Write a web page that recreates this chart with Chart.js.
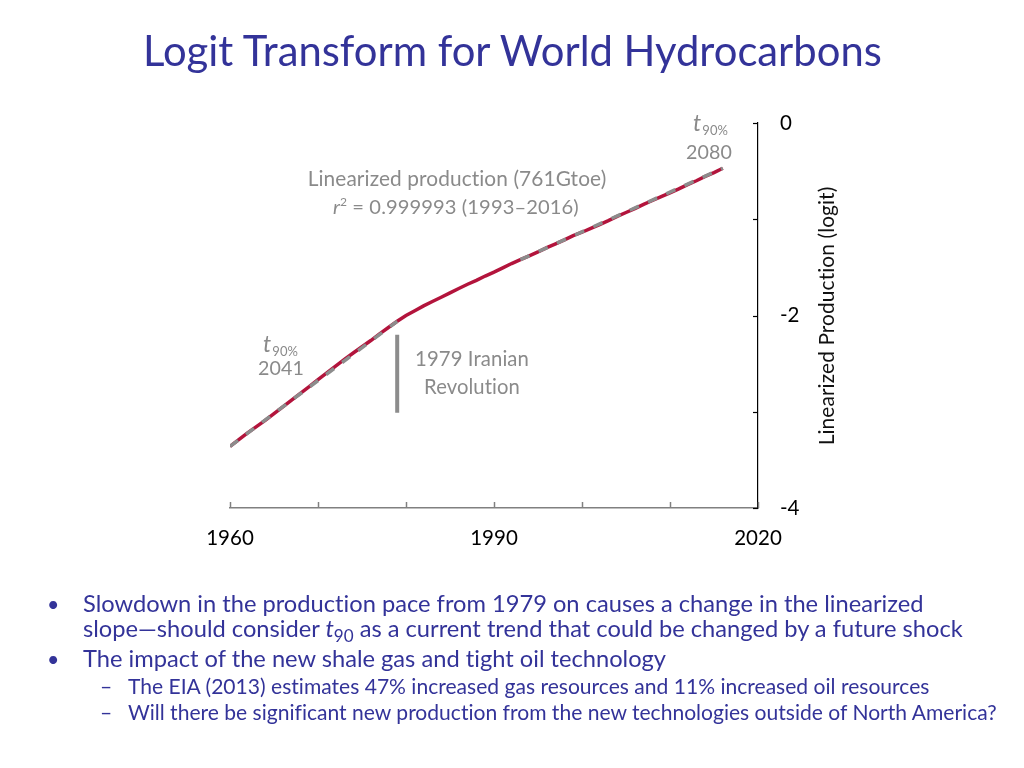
<!DOCTYPE html>
<html>
<head>
<meta charset="utf-8">
<script src="https://cdn.jsdelivr.net/npm/chart.js@4.4.0/dist/chart.umd.min.js"></script>
<style>
  html, body { margin: 0; padding: 0; background: #fff; width: 1024px; height: 768px; overflow: hidden; }
  #c { position: absolute; left: 0; top: 0; }
  .txt { position: absolute; white-space: nowrap; color: #333399; line-height: 1; font-family: Lato, "Open Sans", sans-serif; font-variant-ligatures: none; }
  .sub { font-size: 0.72em; position: relative; top: 0.3em; }
</style>
</head>
<body>
<canvas id="c" width="1024" height="768"></canvas>
<div id="texts"></div>
<script>
// ---------------- DATA ----------------
const years = [
  1960, 1961, 1962, 1963, 1964, 1965, 1966, 1967, 1968, 1969,
  1970, 1971, 1972, 1973, 1974, 1975, 1976, 1977, 1978, 1979,
  1980, 1981, 1982, 1983, 1984, 1985, 1986, 1987, 1988, 1989,
  1990, 1991, 1992, 1993, 1994, 1995, 1996, 1997, 1998, 1999,
  2000, 2001, 2002, 2003, 2004, 2005, 2006, 2007, 2008, 2009,
  2010, 2011, 2012, 2013, 2014, 2015, 2016
];
const logitProduction = [
  -3.36, -3.29, -3.22, -3.155, -3.09, -3.02, -2.95, -2.88, -2.81, -2.74,
  -2.665, -2.595, -2.525, -2.455, -2.39, -2.325, -2.26, -2.19, -2.125, -2.06,
  -2.00, -1.95, -1.90, -1.855, -1.81, -1.765, -1.72, -1.675, -1.635, -1.59,
  -1.55, -1.505, -1.46, -1.42, -1.38, -1.34, -1.295, -1.255, -1.215, -1.17,
  -1.135, -1.095, -1.055, -1.015, -0.97, -0.93, -0.89, -0.845, -0.805, -0.765,
  -0.725, -0.685, -0.64, -0.60, -0.555, -0.515, -0.47
];
const earlyFitYears = [1960, 1979];
const earlyFitLogit = [-3.36, -2.06];
const lateFitYears = [1993, 2016];
const lateFitLogit = [-1.42, -0.47];
const revolutionYears = [1979, 1979];
const revolutionLogit = [-2.20, -3.01];
const xTickLabels = [1960, 1990, 2020];
const yTickLabels = [0, -2, -4];

const toPts = (xs, ys) => xs.map((x, i) => ({ x: x, y: ys[i] }));

// ---------------- HTML TEXT ----------------
const textsEl = document.getElementById('texts');
function makeText(html, left, baseline, size, extraStyle) {
  const d = document.createElement('div');
  d.className = 'txt';
  d.innerHTML = html;
  d.style.fontSize = size + 'px';
  if (extraStyle) Object.assign(d.style, extraStyle);
  textsEl.appendChild(d);
  d.style.left = left + 'px';
  d.style.top = (baseline - 0.887 * size) + 'px';
  return d;
}
function fitSize(html, targetW) {
  const d = makeText(html, 0, 0, 20);
  const w = d.getBoundingClientRect().width;
  d.remove();
  return 20 * targetW / w;
}

// title
const titleText = 'Logit Transform for World Hydrocarbons';
const titleSize = fitSize(titleText, 739);
makeText(titleText, 143, 67, titleSize);

// bullets
const l1 = 'Slowdown in the production pace from 1979 on causes a change in the linearized';
const l2 = 'slope\u2014should consider <i>t</i><span class="sub">90</span> as a current trend that could be changed by a future shock';
const l3 = 'The impact of the new shale gas and tight oil technology';
const s1 = 'The EIA (2013) estimates 47% increased gas resources and 11% increased oil resources';
const s2 = 'Will there be significant new production from the new technologies outside of North America?';
const lv1 = fitSize(l1, 841);
const lv2 = fitSize(s2, 869);
makeText('\u2022', 47, 613, lv1 * 0.9);
makeText(l1, 83, 613, lv1);
makeText(l2, 83, 638, lv1);
makeText('\u2022', 47, 668, lv1 * 0.9);
makeText(l3, 83, 668, lv1);
makeText('\u2013', 100, 694, lv2);
makeText(s1, 128, 694, lv2);
makeText('\u2013', 100, 720, lv2);
makeText(s2, 128, 720, lv2);

// ---------------- CHART ----------------
const GRAY_TXT = '#8a8a8a';
function fitFont(ctx, text, targetW, style) {
  ctx.font = style + ' 20px Lato';
  const w = ctx.measureText(text).width;
  return 20 * targetW / w;
}

const annotPlugin = {
  id: 'annot',
  afterDraw(chart) {
    const ctx = chart.ctx;
    const xs = chart.scales.x, ys = chart.scales.y;
    ctx.save();
    try { ctx.letterSpacing = '0.1px'; } catch (e) {}
    // inward tick marks
    ctx.lineWidth = 1.5;
    ctx.strokeStyle = '#808080';
    xs.ticks.forEach(t => {
      const p = Math.round(xs.getPixelForValue(t.value)) + 0.5;
      ctx.beginPath(); ctx.moveTo(p, xs.top); ctx.lineTo(p, xs.top - 6); ctx.stroke();
    });
    ctx.strokeStyle = '#000';
    ctx.lineWidth = 1.2;
    ys.ticks.forEach(t => {
      const p = Math.round(ys.getPixelForValue(t.value)) + 0.5;
      ctx.beginPath(); ctx.moveTo(ys.left, p); ctx.lineTo(ys.left - 5, p); ctx.stroke();
    });

    // y axis title (reads bottom to top)
    const yTitle = 'Linearized Production (logit)';
    const yts = fitFont(ctx, yTitle, 259, 'normal');
    ctx.save();
    ctx.translate(834, 316);
    ctx.rotate(-Math.PI / 2);
    ctx.font = yts + 'px Lato';
    ctx.fillStyle = '#111';
    ctx.textAlign = 'center';
    ctx.textBaseline = 'alphabetic';
    ctx.fillText(yTitle, 0, 0);
    ctx.restore();

    ctx.fillStyle = GRAY_TXT;
    ctx.textBaseline = 'alphabetic';

    const centered = (text, cx, base, w) => {
      const s = fitFont(ctx, text, w, 'normal');
      ctx.font = s + 'px Lato';
      ctx.textAlign = 'center';
      ctx.fillText(text, cx, base);
    };
    const t90 = (x, base) => {
      ctx.textAlign = 'left';
      ctx.font = 'italic 23px Lato';
      ctx.fillText('t', x, base);
      const tw = ctx.measureText('t').width;
      ctx.font = '13px Lato';
      ctx.fillText('90%', x + tw + 1, base + 4);
    };

    t90(693, 131);
    centered('2080', 709, 159, 46);

    centered('Linearized production (761Gtoe)', 457, 186, 299);

    {
      const parts = [
        { t: 'r', f: 'italic', dy: 0, sc: 1 },
        { t: '2', f: 'normal', dy: -8, sc: 0.6 },
        { t: ' = 0.999993 (1993\u20132016)', f: 'normal', dy: 0, sc: 1 }
      ];
      const base = 20;
      let total = 0;
      parts.forEach(p => { ctx.font = p.f + ' ' + (base * p.sc) + 'px Lato'; total += ctx.measureText(p.t).width; });
      const k = 246 / total;
      let x = 333;
      ctx.textAlign = 'left';
      parts.forEach(p => {
        ctx.font = p.f + ' ' + (base * p.sc * k) + 'px Lato';
        ctx.fillText(p.t, x, 214 + p.dy);
        x += ctx.measureText(p.t).width;
      });
    }

    t90(263, 352);
    centered('2041', 281, 375, 46);

    centered('1979 Iranian', 472, 366, 114);
    centered('Revolution', 472, 394, 96);
    ctx.restore();
  }
};

const tickFont = { family: 'Lato', size: 20.5 };

new Chart(document.getElementById('c').getContext('2d'), {
  type: 'line',
  data: {
    datasets: [
      { label: 'Early fit', data: toPts(earlyFitYears, earlyFitLogit), borderColor: '#8c8c8c',
        borderWidth: 3.5, borderDash: [10, 10], order: 1 },
      { label: 'Late fit', data: toPts(lateFitYears, lateFitLogit), borderColor: '#8c8c8c',
        borderWidth: 3.5, borderDash: [10, 10], order: 1 },
      { label: '1979 Iranian Revolution', data: toPts(revolutionYears, revolutionLogit), borderColor: '#8c8c8c',
        borderWidth: 4, order: 1 },
      { label: 'Linearized production', data: toPts(years, logitProduction), borderColor: '#b3143c',
        borderWidth: 3.5, order: 2 }
    ]
  },
  options: {
    responsive: false,
    animation: false,
    devicePixelRatio: 1,
    elements: { point: { radius: 0 }, line: { tension: 0, fill: false } },
    plugins: { legend: { display: false }, tooltip: { enabled: false } },
    layout: { padding: { left: 230, top: 123, right: 206, bottom: 215 } },
    scales: {
      x: {
        type: 'linear', position: 'bottom', min: 1960, max: 2020,
        grid: { display: false, drawTicks: false },
        border: { display: true, color: '#808080', width: 1.5 },
        ticks: {
          stepSize: 10, autoSkip: false, maxRotation: 0, minRotation: 0, padding: 18,
          color: '#000', font: tickFont,
          callback: v => xTickLabels.includes(v) ? String(v) : ''
        },
        afterFit: s => { s.height = 45; }
      },
      y: {
        type: 'linear', position: 'right', min: -4, max: 0,
        grid: { display: false, drawTicks: false },
        border: { display: true, color: '#000', width: 1.2 },
        ticks: {
          stepSize: 1, autoSkip: false, padding: 22,
          color: '#000', font: tickFont,
          callback: v => yTickLabels.includes(v) ? String(v) : ''
        },
        afterFit: s => { s.width = 60; }
      }
    }
  },
  plugins: [annotPlugin]
});
</script>
</body>
</html>
